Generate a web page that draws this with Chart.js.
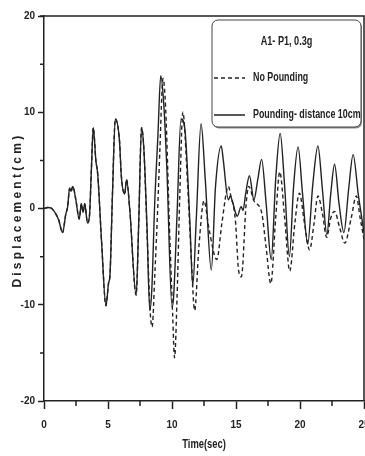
<!DOCTYPE html>
<html>
<head>
<meta charset="utf-8">
<script src="https://cdn.jsdelivr.net/npm/chart.js@4.4.0/dist/chart.umd.min.js"></script>
<style>
  html, body { margin: 0; padding: 0; background: #fff; }
  #wrap { width: 365px; height: 456px; }
</style>
</head>
<body>
<div id="wrap"><canvas id="dispChart"></canvas></div>
<script>
// values (time in sec, displacement in cm)
const timePounding = [0, 0.3, 0.6, 0.9, 1.15, 1.45, 1.7, 1.85, 2.0, 2.12, 2.25, 2.5, 2.75, 2.92, 3.05, 3.18, 3.4, 3.55, 3.7, 3.85,
  4.05, 4.2, 4.5, 4.84, 5.05, 5.15, 5.35, 5.57, 5.9, 6.04, 6.3, 6.45, 6.7, 7.2, 7.4, 7.62, 7.8, 8.05, 8.26, 8.42,
  8.65, 8.9, 9.12, 9.35, 9.6, 10.0, 10.12, 10.4, 10.7, 11.0, 11.4, 11.62, 11.9, 12.27, 12.6, 13.07, 13.4, 13.85, 14.0, 14.4,
  14.55, 14.75, 14.95, 15.1, 15.4, 15.55, 15.75, 16.05, 16.4, 16.7, 17.0, 17.35, 17.75, 18.1, 18.45, 18.8, 19.17, 19.5, 19.85, 20.2,
  20.6, 21.0, 21.4, 21.75, 22.1, 22.4, 22.7, 23.05, 23.43, 23.8, 24.15, 24.55, 25];
const dispPounding = [0, 0.1, 0.0, -0.5, -1.2, -2.5, -0.6, 0.2, 2.1, 1.8, 2.3, 0.8, -1.1, 0.5, -0.4, 0.5, -1.5, -0.8, 4.0, 8.4,
  5.0, 3.5, -3.5, -10.1, -7.7, -7.0, 1.5, 9.3, 7.0, 3.4, 1.5, 3.0, -0.1, -9.0, -1.5, 8.4, 6.2, -2.0, -10.6, -8.5,
  0.6, 7.6, 13.8, 11.0, 4.1, -10.2, -9.3, -0.4, 9.3, 8.3, -1.5, -8.0, -1.0, 8.8, 3.0, -6.4, 2.3, 6.5, 5.1, 0.9,
  1.3, 0.6, -0.4, -0.8, 0.2, -0.2, 1.5, 3.4, 0.9, 3.0, 5.1, 0.6, -5.3, 3.0, 7.8, 2.3, -5.0, 2.3, 6.4, 1.5,
  -3.7, 2.5, 6.5, 2.0, -2.7, 1.5, 4.6, 0.5, -2.5, 2.0, 5.6, 1.5, -2.5];

const timeNoPounding = [0, 0.3, 0.6, 0.9, 1.15, 1.45, 1.7, 1.85, 2.0, 2.12, 2.25, 2.5, 2.75, 2.92, 3.05, 3.18, 3.4, 3.55, 3.7, 3.85,
  4.05, 4.2, 4.5, 4.84, 5.05, 5.15, 5.35, 5.57, 5.9, 6.04, 6.3, 6.45, 6.7, 7.2, 7.4, 7.62, 7.8, 8.05, 8.3, 8.45,
  8.65, 8.9, 9.05, 9.3, 9.5, 9.8, 10.05, 10.2, 10.4, 10.6, 10.85, 11.2, 11.5, 11.77, 12.1, 12.5, 12.9, 13.5, 13.9, 14.4,
  14.6, 14.95, 15.2, 15.42, 15.8, 16.0, 16.4, 17.0, 17.35, 17.72, 18.1, 18.42, 18.8, 19.2, 19.6, 19.95, 20.35, 20.75, 21.1, 21.4,
  21.75, 22.08, 22.4, 22.7, 23.1, 23.5, 24.0, 24.4, 24.7, 25];
const dispNoPounding = [0, 0.1, 0.0, -0.5, -1.2, -2.5, -0.6, 0.2, 2.1, 1.8, 2.3, 0.8, -1.1, 0.5, -0.4, 0.5, -1.5, -0.8, 4.0, 8.4,
  5.0, 3.5, -3.5, -10.1, -7.7, -7.0, 1.5, 9.3, 7.0, 3.4, 1.5, 3.0, -0.1, -9.0, -1.5, 8.4, 6.2, -2.5, -10.8, -12.3,
  -7.1, 0.6, 6.0, 13.5, 10.5, -1.8, -11.0, -15.5, -9.0, 1.0, 10.0, 3.0, -5.0, -10.6, -4.0, 0.8, -2.2, -5.3, -1.5, 2.3,
  1.3, -1.2, -6.4, -7.1, 0.6, 2.3, 0.8, -0.4, -4.0, -7.8, -1.0, 3.8, -1.0, -6.5, -1.5, 1.6, -1.5, -4.3, -1.5, 1.3,
  -0.5, -3.0, -1.0, -0.3, -2.0, -3.6, -1.0, 1.3, -1.0, -3.2];

const xTicks = [0, 5, 10, 15, 20, 25];
const yTicks = [-20, -10, 0, 10, 20];

const chartTitle = 'A1- P1, 0.3g';
const xTitle = 'Time(sec)';
const yTitle = 'Displacement(cm)';
const FONT = '"Liberation Sans", Arial, sans-serif';
const INK = '#222';

const toPoints = (ts, vs) => ts.map((t, i) => ({ x: t, y: vs[i] }));

// the original uses a condensed bold face; squeeze the regular one
function narrowText(ctx, text, x, y, align, squeeze) {
  ctx.save();
  ctx.translate(x, y);
  ctx.scale(squeeze, 1);
  ctx.textAlign = align;
  ctx.textBaseline = 'middle';
  ctx.fillText(text, 0, 0);
  ctx.restore();
}

// minor ticks, top/right frame, axis titles and the boxed legend
const extras = {
  id: 'extras',
  afterDraw(chart) {
    const { ctx, chartArea: a, scales: { x, y } } = chart;
    ctx.save();
    ctx.strokeStyle = INK;
    ctx.lineWidth = 1.5;
    ctx.beginPath();
    ctx.moveTo(a.left - 4, a.top);
    ctx.lineTo(a.right, a.top);
    ctx.lineTo(a.right, a.bottom);
    ctx.stroke();
    ctx.beginPath();
    for (let v = 2.5; v < 25; v += 5) {
      const px = x.getPixelForValue(v);
      ctx.moveTo(px, a.bottom);
      ctx.lineTo(px, a.bottom + 5);
    }
    for (let v = -15; v < 20; v += 10) {
      const py = y.getPixelForValue(v);
      ctx.moveTo(a.left, py);
      ctx.lineTo(a.left - 4, py);
    }
    ctx.stroke();

    ctx.fillStyle = INK;
    ctx.font = 'bold 12px ' + FONT;
    narrowText(ctx, xTitle, (a.left + a.right) / 2, 445, 'center', 0.78);

    // y title, spread out like the original
    const w = ctx.measureText(yTitle).width;
    const sp = Math.max(0, (155 - w) / yTitle.length);
    ctx.letterSpacing = sp + 'px';
    ctx.translate(18, (a.top + a.bottom) / 2 + sp / 2);
    ctx.rotate(-Math.PI / 2);
    ctx.textAlign = 'center';
    ctx.textBaseline = 'middle';
    ctx.fillText(yTitle, 0, 0);
    ctx.restore();

    // legend box
    ctx.save();
    const bx = 212, by = 20, bw = 149, bh = 107, r = 6;
    ctx.fillStyle = '#888';
    ctx.beginPath();
    ctx.roundRect(bx + 1, by + 1.5, bw, bh, r);
    ctx.fill();
    ctx.fillStyle = '#fff';
    ctx.strokeStyle = '#444';
    ctx.lineWidth = 1;
    ctx.beginPath();
    ctx.roundRect(bx, by, bw, bh, r);
    ctx.fill();
    ctx.stroke();

    ctx.fillStyle = INK;
    ctx.font = 'bold 12px ' + FONT;
    narrowText(ctx, chartTitle, bx + bw / 2, 42, 'center', 0.76);

    const rows = [78, 115];
    chart.data.datasets.forEach((ds, i) => {
      const ly = rows[i];
      ctx.strokeStyle = ds.borderColor;
      ctx.lineWidth = 1.5;
      ctx.setLineDash(ds.borderDash || []);
      ctx.beginPath();
      ctx.moveTo(214, ly);
      ctx.lineTo(245, ly);
      ctx.stroke();
      ctx.setLineDash([]);
      narrowText(ctx, ds.label, 253, ly, 'left', 0.74);
    });
    ctx.restore();
  }
};

new Chart(document.getElementById('dispChart'), {
  type: 'line',
  data: {
    datasets: [
      {
        label: 'No Pounding',
        data: toPoints(timeNoPounding, dispNoPounding),
        borderColor: INK,
        borderWidth: 1.4,
        borderDash: [4, 3],
        pointRadius: 0,
        cubicInterpolationMode: 'monotone'
      },
      {
        label: 'Pounding- distance 10cm',
        data: toPoints(timePounding, dispPounding),
        borderColor: INK,
        borderWidth: 1.4,
        pointRadius: 0,
        cubicInterpolationMode: 'monotone'
      }
    ]
  },
  options: {
    responsive: true,
    maintainAspectRatio: false,
    animation: false,
    layout: { padding: { top: 16, right: 1, left: 0, bottom: 0 } },
    plugins: {
      legend: { display: false },
      tooltip: { enabled: false }
    },
    scales: {
      x: {
        type: 'linear',
        min: 0,
        max: 25,
        afterBuildTicks: s => { s.ticks = xTicks.map(v => ({ value: v })); },
        afterFit: s => { s.height = 55; s.paddingLeft = 0; s.paddingRight = 0; },
        ticks: { color: INK, font: { family: FONT, size: 10, weight: 'bold' }, padding: 10, maxRotation: 0, autoSkip: false },
        grid: { drawOnChartArea: false, tickLength: 8, tickColor: INK, tickWidth: 1.5 },
        border: { color: INK, width: 1.5 }
      },
      y: {
        min: -20,
        max: 20,
        afterBuildTicks: s => { s.ticks = yTicks.map(v => ({ value: v })); },
        afterFit: s => { s.width = 44; },
        ticks: { color: INK, font: { family: FONT, size: 10, weight: 'bold' }, padding: 3 },
        grid: { drawOnChartArea: false, tickLength: 6, tickColor: INK, tickWidth: 1.5 },
        border: { color: INK, width: 1.5 }
      }
    }
  },
  plugins: [extras]
});
</script>
</body>
</html>
